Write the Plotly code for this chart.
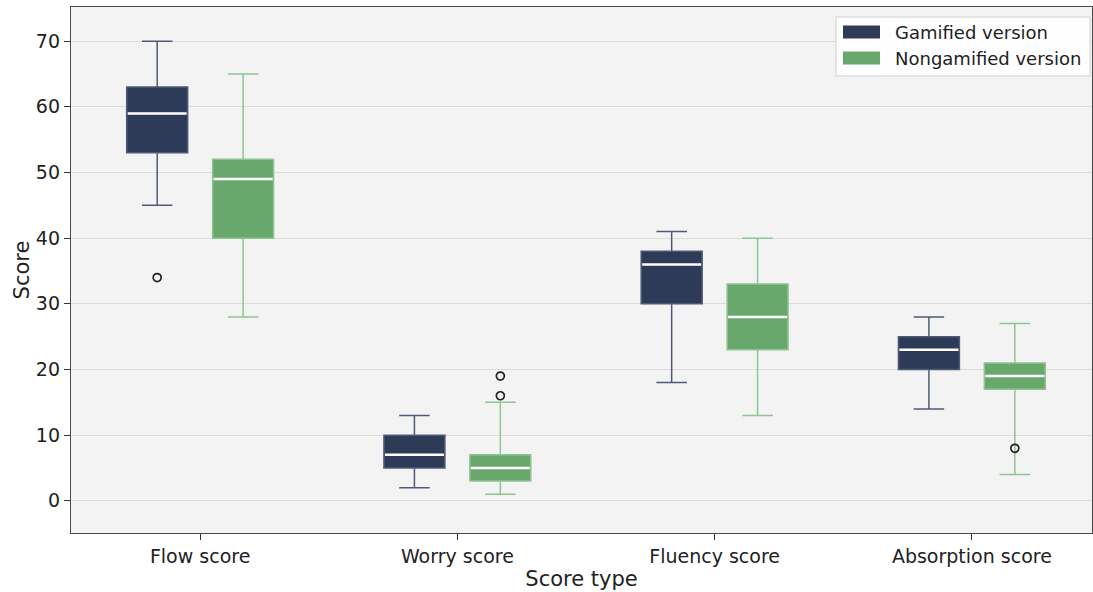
import plotly.graph_objects as go

# Score categories and box statistics per version
categories = ["Flow score", "Worry score", "Fluency score", "Absorption score"]

gam_low = [45, 2, 18, 14]
gam_q1 = [53, 5, 30, 20]
gam_median = [59, 7, 36, 23]
gam_q3 = [63, 10, 38, 25]
gam_high = [70, 13, 41, 28]
gam_outliers = [[34], [], [], []]

non_low = [28, 1, 13, 4]
non_q1 = [40, 3, 23, 17]
non_median = [49, 5, 28, 19]
non_q3 = [52, 7, 33, 21]
non_high = [65, 15, 40, 27]
non_outliers = [[], [16, 19], [], [8]]

OFFSET = 0.167
BOX_W = 0.237
FONT = "DejaVu Sans"
W, H = 1093, 592
ML, MR, MT, MB = 71, 1, 7, 59

series = [
    dict(name="Gamified version", shift=-OFFSET, fill="#2d3b59", edge="#4f5a74",
         low=gam_low, q1=gam_q1, med=gam_median, q3=gam_q3, high=gam_high, out=gam_outliers),
    dict(name="Nongamified version", shift=OFFSET, fill="#69a86c", edge="#8fc592",
         low=non_low, q1=non_q1, med=non_median, q3=non_q3, high=non_high, out=non_outliers),
]

fig = go.Figure()
for s in series:
    xs = [i + s["shift"] for i in range(len(categories))]
    fig.add_trace(go.Box(
        name=s["name"], x=xs, q1=s["q1"], median=s["med"], q3=s["q3"],
        lowerfence=s["low"], upperfence=s["high"], width=BOX_W,
        fillcolor=s["fill"], line=dict(color=s["edge"], width=1.5),
        whiskerwidth=0.5, boxpoints=False, showlegend=False,
    ))
    # white median bars
    mx, my = [], []
    for x, m in zip(xs, s["med"]):
        mx += [x - BOX_W / 2 + 0.004, x + BOX_W / 2 - 0.004, None]
        my += [m, m, None]
    fig.add_trace(go.Scatter(x=mx, y=my, mode="lines", line=dict(color="white", width=2.5),
                             showlegend=False, hoverinfo="skip"))
    # outliers
    ox, oy = [], []
    for x, vals in zip(xs, s["out"]):
        for v in vals:
            ox.append(x)
            oy.append(v)
    if ox:
        fig.add_trace(go.Scatter(x=ox, y=oy, mode="markers",
                                 marker=dict(symbol="circle-open", size=8, color="#222222",
                                             line=dict(width=1.7)),
                                 showlegend=False, hoverinfo="skip"))

# Legend panel built from paper-space shapes and text
pw, ph = W - ML - MR, H - MT - MB


def px(x):
    return (x - ML) / pw


def py(y):
    return (H - MB - y) / ph


shapes = [dict(type="rect", xref="paper", yref="paper",
               x0=px(836), x1=px(1090), y0=py(76), y1=py(17),
               fillcolor="rgba(255,255,255,0.9)", line=dict(color="#cfcfcf", width=1),
               layer="above")]
annotations = []
for k, s in enumerate(series):
    yc = 32 + 26 * k
    shapes.append(dict(type="rect", xref="paper", yref="paper",
                       x0=px(843), x1=px(880), y0=py(yc + 6.5), y1=py(yc - 6.5),
                       fillcolor=s["fill"], line=dict(width=0), layer="above"))
    annotations.append(dict(xref="paper", yref="paper", x=px(893), y=py(yc),
                            xanchor="left", yanchor="middle", showarrow=False,
                            text=s["name"], font=dict(family=FONT, size=18, color="#222222")))

fig.update_layout(
    width=W, height=H,
    margin=dict(l=ML, r=MR, t=MT, b=MB),
    paper_bgcolor="white", plot_bgcolor="#f3f3f3",
    font=dict(family=FONT, size=19, color="#222222"),
    showlegend=False,
    shapes=shapes, annotations=annotations,
    xaxis=dict(range=[-0.502, 3.467], tickmode="array", tickvals=list(range(len(categories))),
               ticktext=categories, showgrid=False, zeroline=False,
               ticks="outside", ticklen=6, tickcolor="#333333",
               showline=True, linecolor="#4a4a4a", linewidth=1.3, mirror=True,
               title=dict(text="Score type", font=dict(size=21), standoff=5),
               tickfont=dict(size=19)),
    yaxis=dict(range=[-4.9, 75.2], tickmode="array", tickvals=[0, 10, 20, 30, 40, 50, 60, 70],
               showgrid=True, gridcolor="#dcdcdc", gridwidth=1.3, zeroline=False,
               ticks="outside", ticklen=6, tickcolor="#333333",
               showline=True, linecolor="#4a4a4a", linewidth=1.3, mirror=True,
               title=dict(text="Score", font=dict(size=21), standoff=0),
               tickfont=dict(size=19)),
)

fig.write_html("out.html")
